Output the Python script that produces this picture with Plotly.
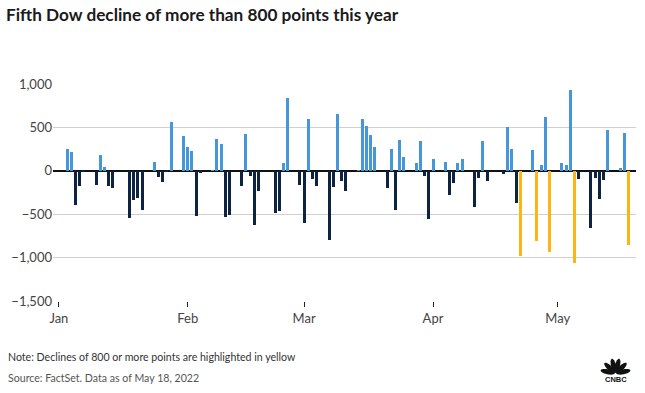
import math
import plotly.graph_objects as go

dates = [
    "2022-01-03", "2022-01-04", "2022-01-05", "2022-01-06", "2022-01-07",
    "2022-01-10", "2022-01-11", "2022-01-12", "2022-01-13", "2022-01-14",
    "2022-01-18", "2022-01-19", "2022-01-20", "2022-01-21",
    "2022-01-24", "2022-01-25", "2022-01-26", "2022-01-27", "2022-01-28",
    "2022-01-31", "2022-02-01", "2022-02-02", "2022-02-03", "2022-02-04",
    "2022-02-07", "2022-02-08", "2022-02-09", "2022-02-10", "2022-02-11",
    "2022-02-14", "2022-02-15", "2022-02-16", "2022-02-17", "2022-02-18",
    "2022-02-22", "2022-02-23", "2022-02-24", "2022-02-25",
    "2022-02-28", "2022-03-01", "2022-03-02", "2022-03-03", "2022-03-04",
    "2022-03-07", "2022-03-08", "2022-03-09", "2022-03-10", "2022-03-11",
    "2022-03-14", "2022-03-15", "2022-03-16", "2022-03-17", "2022-03-18",
    "2022-03-21", "2022-03-22", "2022-03-23", "2022-03-24", "2022-03-25",
    "2022-03-28", "2022-03-29", "2022-03-30", "2022-03-31", "2022-04-01",
    "2022-04-04", "2022-04-05", "2022-04-06", "2022-04-07", "2022-04-08",
    "2022-04-11", "2022-04-12", "2022-04-13", "2022-04-14",
    "2022-04-18", "2022-04-19", "2022-04-20", "2022-04-21", "2022-04-22",
    "2022-04-25", "2022-04-26", "2022-04-27", "2022-04-28", "2022-04-29",
    "2022-05-02", "2022-05-03", "2022-05-04", "2022-05-05", "2022-05-06",
    "2022-05-09", "2022-05-10", "2022-05-11", "2022-05-12", "2022-05-13",
    "2022-05-16", "2022-05-17", "2022-05-18",
]

changes = [
    246.8, 214.6, -392.5, -170.6, -4.8,
    -162.8, 183.2, 38.3, -176.7, -201.8,
    -543.3, -339.8, -313.3, -450.0,
    99.1, -66.8, -129.6, -7.3, 564.7,
    406.4, 273.4, 224.1, -518.2, -21.4,
    1.4, 371.7, 305.3, -526.5, -503.5,
    -171.9, 422.7, -54.6, -622.2, -232.9,
    -482.6, -464.9, 92.1, 834.9,
    -166.2, -597.7, 596.4, -96.7, -179.9,
    -797.4, -184.7, 653.6, -112.2, -229.9,
    1.1, 599.1, 518.8, 417.7, 274.2,
    -201.9, 254.5, -449.0, 349.4, 153.3,
    94.7, 338.3, -65.4, -550.5, 139.9,
    103.6, -280.7, -144.7, 87.1, 137.6,
    -413.0, -87.7, 344.2, -113.4,
    -39.5, 499.5, 249.6, -368.0, -981.4,
    238.1, -809.3, 61.8, 614.5, -939.2,
    84.3, 67.3, 932.3, -1063.1, -98.6,
    -653.7, -85.0, -326.6, -103.8, 466.4,
    26.8, 431.2, -850.0,
]

month_ticks = ["2022-01-01", "2022-02-01", "2022-03-01", "2022-04-01", "2022-05-01"]
month_labels = ["Jan", "Feb", "Mar", "Apr", "May"]
y_ticks = [-1500, -1000, -500, 0, 500, 1000]

BLUE = "#4697da"
NAVY = "#0e2341"
YELLOW = "#fdb515"

colors = [BLUE if v >= 0 else (YELLOW if v <= -800 else NAVY) for v in changes]

fig = go.Figure()
fig.add_trace(go.Bar(
    x=dates, y=changes,
    marker=dict(color=colors, line=dict(width=0)),
    width=0.72 * 86400000,
    hoverinfo="x+y",
))

W, H = 645, 393
L, R, T, B = 53, 9, 84, 92
pw, ph = W - L - R, H - T - B

def px2paper(px, py):
    return (px - L) / pw, (H - B - py) / ph

shapes = []
# CNBC peacock logo (decorative)
cx, cy = 615.5, 373.5
for ang in [168, 136, 104, 76, 44, 12]:
    a = math.radians(ang)
    ux, uy = math.cos(a), -math.sin(a)
    vx, vy = -uy, ux
    dist, ra, rb = 8.0, 7.2, 2.5
    mx, my = cx + ux * dist, cy + uy * dist
    pts = []
    for k in range(24):
        t = 2 * math.pi * k / 24
        px = mx + ux * ra * math.cos(t) + vx * rb * math.sin(t)
        py = my + uy * ra * math.cos(t) + vy * rb * math.sin(t)
        pts.append(px2paper(px, py))
    path = "M " + " L ".join(f"{p[0]:.5f},{p[1]:.5f}" for p in pts) + " Z"
    shapes.append(dict(type="path", xref="paper", yref="paper", path=path,
                       fillcolor="#111111", line=dict(width=0), layer="above"))

nx, ny = px2paper(6, 357)
sx, sy = px2paper(6, 378)
lx, ly = px2paper(616, 379.5)

fig.update_layout(
    width=W, height=H,
    margin=dict(l=L, r=R, t=T, b=B),
    paper_bgcolor="white", plot_bgcolor="white",
    showlegend=False, bargap=0,
    font=dict(family="Lato, Open Sans, sans-serif", color="#333333", size=13),
    title=dict(
        text="<b>Fifth Dow decline of more than 800 points this year</b>",
        x=6 / W, xanchor="left", xref="container",
        y=1 - 15 / H, yanchor="middle", yref="container",
        font=dict(family="Lato, Open Sans, sans-serif", size=17.2, color="#1a1a1a"),
    ),
    xaxis=dict(
        type="date",
        range=["2021-12-30 14:00", "2022-05-19 20:00"],
        tickvals=month_ticks, ticktext=month_labels,
        ticks="outside", ticklen=5, tickwidth=1, tickcolor="#222222",
        showgrid=False, zeroline=False, showline=False,
        tickfont=dict(size=13, color="#444444"),
    ),
    yaxis=dict(
        range=[-1500, 1000],
        tickvals=y_ticks, tickformat=",",
        showgrid=True, gridcolor="#d0d0d0", gridwidth=1,
        zeroline=True, zerolinecolor="#111111", zerolinewidth=1.5,
        showline=False, ticks="",
        tickfont=dict(size=13, color="#444444"),
    ),
    shapes=shapes,
    annotations=[
        dict(text="Note: Declines of 800 or more points are highlighted in yellow",
             xref="paper", yref="paper", x=nx, y=ny, xanchor="left", yanchor="middle",
             showarrow=False, font=dict(size=10.6, color="#333333")),
        dict(text="Source: FactSet. Data as of May 18, 2022",
             xref="paper", yref="paper", x=sx, y=sy, xanchor="left", yanchor="middle",
             showarrow=False, font=dict(size=10.6, color="#555555")),
        dict(text="<b>CNBC</b>",
             xref="paper", yref="paper", x=lx, y=ly, xanchor="center", yanchor="middle",
             showarrow=False, font=dict(family="Liberation Sans, Arial", size=7.5, color="#111111")),
    ],
)

fig.write_html("out.html", config={"displayModeBar": False},
               post_script="document.body.style.margin='0';")
